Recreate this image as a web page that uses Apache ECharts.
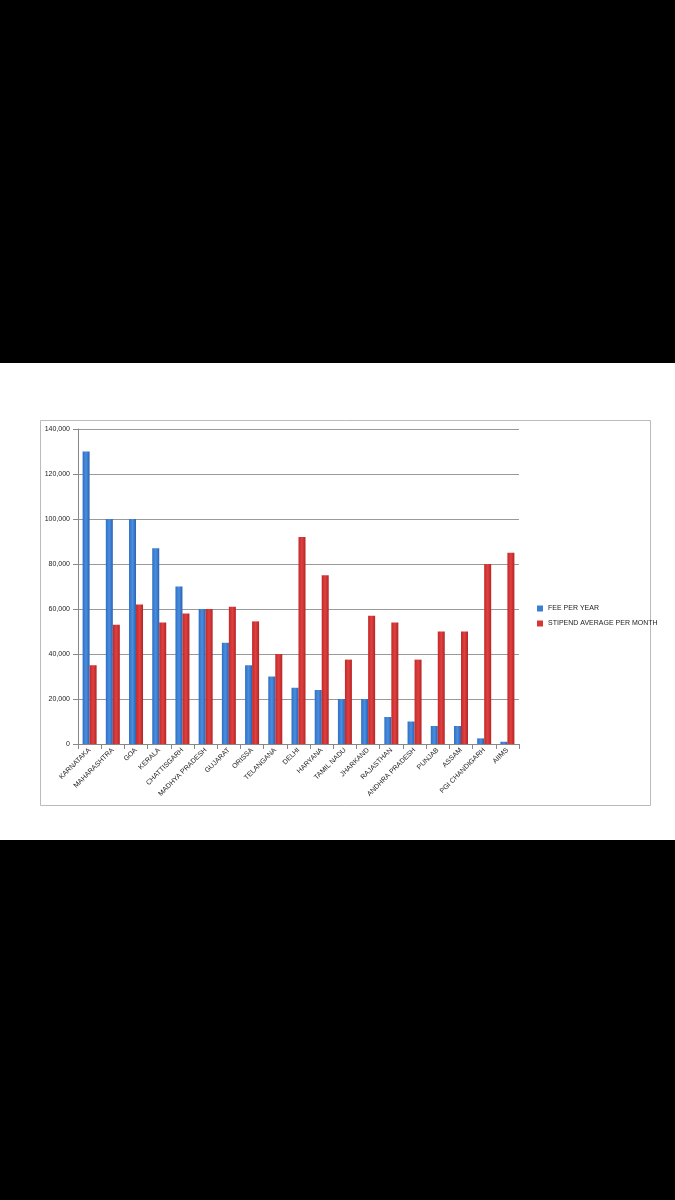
<!DOCTYPE html>
<html>
<head>
<meta charset="utf-8">
<script src="https://cdn.jsdelivr.net/npm/echarts@6/dist/echarts.min.js"></script>
<style>
  html, body { margin: 0; padding: 0; background: #000; }
  #chart { width: 675px; height: 1200px; }
</style>
</head>
<body>
<div id="chart"></div>
<script>
const states = ['KARNATAKA', 'MAHARASHTRA', 'GOA', 'KERALA', 'CHATTISGARH', 'MADHYA PRADESH', 'GUJARAT',
  'ORISSA', 'TELANGANA', 'DELHI', 'HARYANA', 'TAMIL NADU', 'JHARKAND', 'RAJASTHAN', 'ANDHRA PRADESH',
  'PUNJAB', 'ASSAM', 'PGI CHANDIGARH', 'AIIMS'];
const feePerYear = [130000, 100000, 100000, 87000, 70000, 60000, 45000, 35000, 30000, 25000, 24000,
  20000, 20000, 12000, 10000, 8000, 8000, 2500, 1000];
const stipendPerMonth = [35000, 53000, 62000, 54000, 58000, 60000, 61000, 54500, 40000, 92000, 75000,
  37500, 57000, 54000, 37500, 50000, 50000, 80000, 85000];

const chart = echarts.init(document.getElementById('chart'));

const blueBar = new echarts.graphic.LinearGradient(0, 0, 1, 0, [
  { offset: 0, color: '#2f6fc4' }, { offset: 0.5, color: '#4a8ee0' }, { offset: 1, color: '#2a62b0' }
]);
const redBar = new echarts.graphic.LinearGradient(0, 0, 1, 0, [
  { offset: 0, color: '#c02a2a' }, { offset: 0.5, color: '#e04040' }, { offset: 1, color: '#b42525' }
]);

chart.setOption({
  backgroundColor: '#000',
  animation: false,
  graphic: [
    { type: 'rect', z: -10, shape: { x: 0, y: 363, width: 675, height: 477 }, style: { fill: '#fff' } },
    { type: 'rect', z: -9, shape: { x: 40.5, y: 420.5, width: 610, height: 385 },
      style: { fill: '#fff', stroke: '#bbb', lineWidth: 1 } }
  ],
  grid: { left: 78, right: 156, top: 429, bottom: 456 },
  legend: {
    orient: 'vertical', left: 532, top: 600, itemWidth: 6, itemHeight: 6, itemGap: 8,
    icon: 'rect', textStyle: { fontSize: 7, color: '#222', fontFamily: 'Liberation Sans' },
    data: [
      { name: 'FEE PER YEAR', itemStyle: { color: '#3a7fd5' } },
      { name: 'STIPEND AVERAGE PER MONTH', itemStyle: { color: '#d83535' } }
    ]
  },
  xAxis: {
    type: 'category', data: states,
    axisLine: { lineStyle: { color: '#888' } },
    axisTick: { show: true, lineStyle: { color: '#888' } },
    axisLabel: { rotate: 45, interval: 0, fontSize: 7, color: '#222', fontFamily: 'Liberation Sans', margin: 5 }
  },
  yAxis: {
    type: 'value', min: 0, max: 140000, interval: 20000,
    axisLine: { show: true, lineStyle: { color: '#888' } },
    axisTick: { show: true, lineStyle: { color: '#888' } },
    splitLine: { lineStyle: { color: '#999' } },
    axisLabel: { fontSize: 7, color: '#222', fontFamily: 'Liberation Sans' }
  },
  series: [
    { name: 'FEE PER YEAR', type: 'bar', data: feePerYear, barWidth: 7, barGap: '0%', itemStyle: { color: blueBar } },
    { name: 'STIPEND AVERAGE PER MONTH', type: 'bar', data: stipendPerMonth, barWidth: 7, itemStyle: { color: redBar } }
  ]
});
</script>
</body>
</html>
